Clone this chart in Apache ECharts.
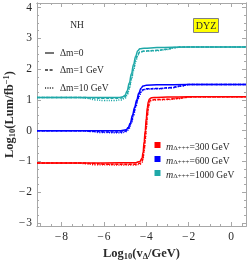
<!DOCTYPE html>
<html><head><meta charset="utf-8">
<script src="https://cdn.jsdelivr.net/npm/echarts@6/dist/echarts.min.js"></script>
<style>html,body{margin:0;padding:0;background:#fff}#c{width:249px;height:263px}</style>
</head><body><div id="c"></div>
<script>
// ---- data ----
const xMajor = [-8, -6, -4, -2, 0];
const xMinor = [-9, -8.5, -7.5, -7, -6.5, -5.5, -5, -4.5, -3.5, -3, -2.5, -1.5, -1, -0.5, 0.5];
const yMajor = [-3, -2, -1, 0, 1, 2, 3, 4];
const yMinor = [-2.75, -2.5, -2.25, -1.75, -1.5, -1.25, -0.75, -0.5, -0.25, 0.25, 0.5, 0.75, 1.25, 1.5, 1.75, 2.25, 2.5, 2.75, 3.25, 3.5, 3.75];

const red0 = [[-9.15,-1.05],[-6,-1.05],[-4.5,-1.04],[-4.3,-1.0],[-4.2,-0.9],[-4.15,-0.7],[-4.1,-0.35],[-4.05,0.0],[-4.0,0.4],[-3.95,0.75],[-3.9,0.95],[-3.85,1.03],[-3.75,1.07],[-3.5,1.08],[-3,1.09],[-2,1.1],[0.7,1.1]];
const red1 = [[-9.15,-1.05],[-7,-1.05],[-6.5,-1.07],[-6,-1.09],[-4.5,-1.09],[-4.3,-1.06],[-4.2,-1.0],[-4.15,-0.85],[-4.1,-0.6],[-4.05,-0.25],[-4.0,0.15],[-3.95,0.5],[-3.9,0.78],[-3.85,0.93],[-3.8,0.99],[-3.6,1.01],[-3.0,1.02],[-2.5,1.05],[-2.0,1.09],[-1.8,1.1],[0.7,1.1]];
const red10 = [[-9.15,-1.05],[-7.2,-1.05],[-6.8,-1.08],[-6.4,-1.11],[-4.5,-1.12],[-4.3,-1.09],[-4.2,-1.03],[-4.15,-0.9],[-4.1,-0.65],[-4.05,-0.3],[-4.0,0.1],[-3.95,0.45],[-3.9,0.75],[-3.85,0.9],[-3.8,0.97],[-3.6,1.0],[-3.0,1.01],[-2.5,1.04],[-2.0,1.09],[-1.8,1.1],[0.7,1.1]];

const blue0 = [[-9.15,0.0],[-5.2,0.0],[-4.95,0.03],[-4.85,0.1],[-4.75,0.25],[-4.65,0.5],[-4.55,0.75],[-4.45,1.0],[-4.35,1.22],[-4.25,1.38],[-4.15,1.45],[-4.0,1.48],[-3.5,1.49],[-2,1.5],[0.7,1.5]];
const blue1 = [[-9.15,0.0],[-7,0.0],[-6.5,-0.02],[-6,-0.04],[-5.2,-0.04],[-5.0,-0.02],[-4.9,0.03],[-4.8,0.12],[-4.7,0.3],[-4.6,0.55],[-4.5,0.8],[-4.4,1.05],[-4.3,1.22],[-4.2,1.32],[-4.0,1.36],[-3.5,1.37],[-2.8,1.4],[-2.4,1.45],[-2.0,1.5],[0.7,1.5]];
const blue10 = [[-9.15,0.0],[-7,0.0],[-6.6,-0.03],[-6.2,-0.06],[-5.2,-0.07],[-5.0,-0.05],[-4.9,0.0],[-4.8,0.08],[-4.7,0.25],[-4.6,0.5],[-4.5,0.75],[-4.4,1.0],[-4.3,1.18],[-4.2,1.3],[-4.0,1.35],[-3.5,1.36],[-2.8,1.39],[-2.4,1.44],[-2.0,1.5],[0.7,1.5]];

const cyan0 = [[-9.15,1.08],[-5.3,1.08],[-5.1,1.1],[-5.0,1.15],[-4.9,1.3],[-4.8,1.55],[-4.7,1.85],[-4.6,2.15],[-4.5,2.42],[-4.4,2.6],[-4.3,2.66],[-4.1,2.68],[-3.5,2.7],[-2,2.72],[0.7,2.72]];
const cyan1 = [[-9.15,1.08],[-7,1.08],[-6.5,1.06],[-6,1.05],[-5.5,1.05],[-5.2,1.06],[-5.0,1.1],[-4.9,1.2],[-4.8,1.4],[-4.7,1.7],[-4.6,2.0],[-4.5,2.3],[-4.4,2.48],[-4.3,2.56],[-4.1,2.59],[-3.5,2.61],[-3.0,2.65],[-2.7,2.7],[-2.4,2.72],[0.7,2.72]];
const cyan10 = [[-9.15,1.08],[-7.2,1.08],[-6.8,1.05],[-6.4,1.0],[-6.0,0.98],[-5.5,0.98],[-5.2,1.0],[-5.0,1.05],[-4.9,1.15],[-4.8,1.35],[-4.7,1.65],[-4.6,1.95],[-4.5,2.25],[-4.4,2.45],[-4.3,2.55],[-4.1,2.58],[-3.5,2.6],[-3.0,2.64],[-2.7,2.69],[-2.4,2.72],[0.7,2.72]];

const massLabels = ['300', '600', '1000'];
const dmLabels = ['Δm=0', 'Δm=1 GeV', 'Δm=10 GeV'];

// ---- chart ----
const RED = '#ff0000', BLUE = '#0000ff', CYAN = '#1fa8a8';
const FONT = '"Liberation Serif", "DejaVu Serif", serif';
const AX = '#a8a8a8';
const TXT = '#2a2a2a';
const XMIN = -9.15, XMAX = 0.7, YMIN = -3.1, YMAX = 4.15;
const fmt = v => (v < 0 ? '\u2212\u200a' + Math.abs(v) : String(v));
const gridBox = {left: 37, right: 3, top: 3, bottom: 37, containLabel: false, outerBoundsMode: 'none'};

function nameStyle() {
  return {fontFamily: FONT, fontSize: 12.5, fontWeight: 'bold', color: TXT,
    rich: {b: {fontFamily: FONT, fontSize: 12.5, fontWeight: 'bold', color: TXT},
           s: {fontFamily: FONT, fontSize: 8.5, fontWeight: 'bold', color: TXT, padding: [6, 0, 0, 0]},
           u: {fontFamily: FONT, fontSize: 8.5, fontWeight: 'bold', color: TXT, padding: [0, 0, 6, 0]}}};
}
function xAx(gi, pos, ticks, len, labels, name) {
  return {
    type: 'value', gridIndex: gi, position: pos, min: XMIN, max: XMAX,
    axisLine: {show: true, onZero: false, lineStyle: {color: AX, width: 1}},
    axisTick: {show: true, inside: true, length: len, customValues: ticks, lineStyle: {color: AX}},
    axisLabel: labels ? {show: true, customValues: xMajor, formatter: fmt, margin: 5, color: TXT, fontFamily: FONT, fontSize: 11.5} : {show: false},
    splitLine: {show: false},
    name: name || '', nameLocation: 'middle', nameGap: 20, nameMoveOverlap: false,
    nameTextStyle: nameStyle()
  };
}
function yAx(gi, pos, ticks, len, labels, name) {
  return {
    type: 'value', gridIndex: gi, position: pos, min: YMIN, max: YMAX,
    axisLine: {show: true, onZero: false, lineStyle: {color: AX, width: 1}},
    axisTick: {show: true, inside: true, length: len, customValues: ticks, lineStyle: {color: AX}},
    axisLabel: labels ? {show: true, customValues: yMajor, formatter: fmt, margin: 5, color: TXT, fontFamily: FONT, fontSize: 11.5} : {show: false},
    splitLine: {show: false},
    name: name || '', nameLocation: 'middle', nameGap: 20, nameMoveOverlap: false,
    nameTextStyle: nameStyle()
  };
}

function line(data, color, type) {
  return {
    type: 'line', data: data, xAxisIndex: 0, yAxisIndex: 0, showSymbol: false, symbol: 'none',
    smooth: 0.4, smoothMonotone: 'x', silent: true, animation: false,
    lineStyle: {color: color, width: 1.5, type: type}, z: type === 'solid' ? 3 : 2
  };
}
const DASH = [3, 1.6], DOT = [1.1, 1.3];

const legendX = 60, legendYs = [53, 70, 88];
const massYs = [145, 159, 173];
const massColors = [RED, BLUE, CYAN];
const graphics = [];
const dashTypes = ['solid', DASH, DOT];
dmLabels.forEach((t, i) => {
  graphics.push({type: 'line', shape: {x1: 45, y1: legendYs[i], x2: 54, y2: legendYs[i]},
    style: {stroke: TXT, lineWidth: 1.3, lineDash: i === 0 ? null : dashTypes[i]}});
  graphics.push({type: 'text', x: legendX, y: legendYs[i],
    style: {text: t, font: '9.5px ' + FONT, fill: TXT, verticalAlign: 'middle'}});
});
massLabels.forEach((t, i) => {
  graphics.push({type: 'rect', shape: {x: 154.5, y: massYs[i] - 3, width: 6, height: 6}, style: {fill: massColors[i]}});
  graphics.push({type: 'text', x: 166, y: massYs[i] - 6,
    style: {text: '{m|m}{s|Δ+++}{n|=' + t + ' GeV}', fill: TXT,
      rich: {m: {fontFamily: FONT, fontStyle: 'italic', fontSize: 10, lineHeight: 13, verticalAlign: 'bottom', fill: TXT},
             s: {fontFamily: FONT, fontSize: 7, lineHeight: 10, verticalAlign: 'bottom', fill: TXT},
             n: {fontFamily: FONT, fontSize: 9.5, lineHeight: 13, verticalAlign: 'bottom', fill: TXT}}}});
});
graphics.push({type: 'text', x: 77, y: 25, style: {text: 'NH', font: '9.5px ' + FONT, fill: TXT, align: 'center', verticalAlign: 'middle'}});
graphics.push({type: 'rect', shape: {x: 193.5, y: 18.5, width: 25, height: 14}, style: {fill: '#ffff00', stroke: '#808080', lineWidth: 1}});
graphics.push({type: 'text', x: 206, y: 26, style: {text: 'DYZ', font: '10px ' + FONT, fill: TXT, align: 'center', verticalAlign: 'middle'}});

const chart = echarts.init(document.getElementById('c'), null, {renderer: 'canvas'});
chart.setOption({
  animation: false,
  backgroundColor: '#fff',
  grid: [Object.assign({}, gridBox), Object.assign({}, gridBox)],
  xAxis: [
    xAx(0, 'bottom', xMajor, 4, true, '{b|Log}{s|10}{b|(v}{s|Δ}{b|/GeV)}'),
    xAx(0, 'top', xMajor, 4, false),
    xAx(1, 'bottom', xMinor, 2, false),
    xAx(1, 'top', xMinor, 2, false)
  ],
  yAxis: [
    yAx(0, 'left', yMajor, 4, true, '{b|Log}{s|10}{b|(Lum/fb}{u|−1}{b|)}'),
    yAx(0, 'right', yMajor, 4, false),
    yAx(1, 'left', yMinor, 2, false),
    yAx(1, 'right', yMinor, 2, false)
  ],
  series: [
    line(red10, RED, DOT), line(red1, RED, DASH), line(red0, RED, 'solid'),
    line(blue10, BLUE, DOT), line(blue1, BLUE, DASH), line(blue0, BLUE, 'solid'),
    line(cyan10, CYAN, DOT), line(cyan1, CYAN, DASH), line(cyan0, CYAN, 'solid')
  ],
  graphic: graphics
});
</script></body></html>
